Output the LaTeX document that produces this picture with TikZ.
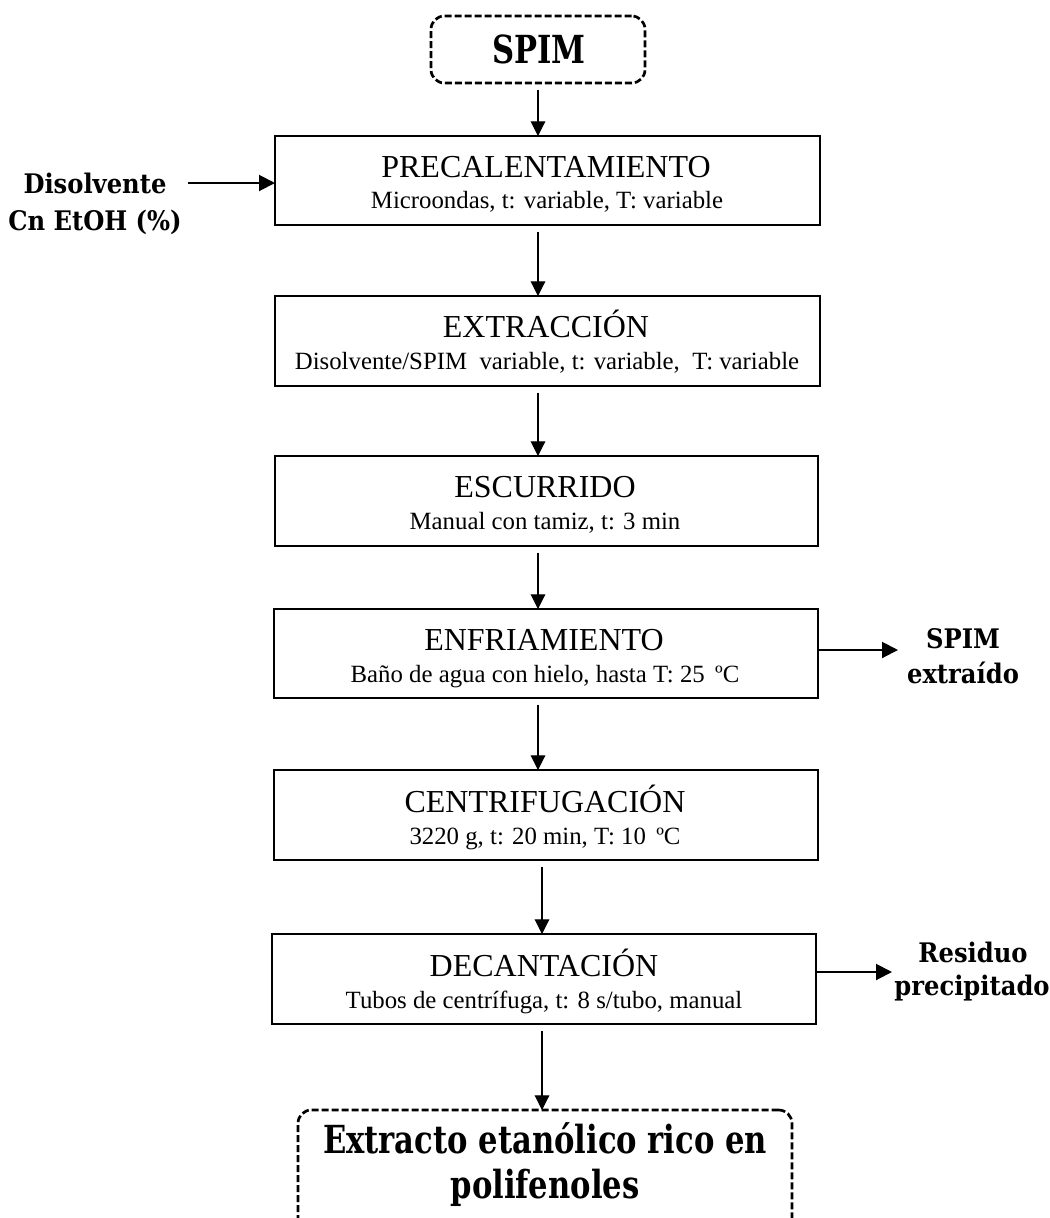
\documentclass[tikz,border=0pt]{standalone}
\usepackage{fontspec}
\setmainfont{Liberation Serif}
\newfontfamily\lblfont{DejaVu Serif Condensed}
\newfontfamily\bigfont{DejaVu Serif Condensed}[FakeStretch=0.88]
\usetikzlibrary{arrows.meta}
\begin{document}
\begin{tikzpicture}[x=0.75pt,y=-0.75pt,
  stepbox/.style={draw, line width=1.1pt, inner sep=0pt, outer sep=0pt},
  endbox/.style={draw, line width=2pt, dash pattern=on 5.2pt off 2.3pt, rounded corners=10pt, inner sep=0pt, outer sep=0pt},
  ttl/.style={anchor=base, inner sep=0pt, font=\fontsize{24}{28}\selectfont},
  sub/.style={anchor=base, inner sep=0pt, font=\fontsize{18.6}{22}\selectfont},
  lbl/.style={anchor=base, inner sep=0pt, font=\lblfont\bfseries\fontsize{20.2}{24}\selectfont},
  big/.style={anchor=base, inner sep=0pt, font=\bigfont\bfseries\fontsize{29}{34}\selectfont},
  flow/.style={-{Triangle[length=11pt,width=11pt]}, line width=0.8pt, shorten <=5pt},
  side/.style={-{Triangle[length=12pt,width=12pt]}, line width=1.5pt}]
\useasboundingbox (0,0) rectangle (1050,1218);

% start
\node[endbox, minimum width=160.5pt, minimum height=50.25pt] (spim) at (538,49.5) {};
\node[big] (spimt) at (539,63) {SPIM};

% boxes
\node[stepbox, minimum width=408.75pt, minimum height=66.75pt] (p1) at (547.5,180.5) {};
\node[ttl] (t1) at (546,177) {PRECALENTAMIENTO};
\node[sub] (s1) at (547,208) {Microondas, t: variable, T: variable};

\node[stepbox, minimum width=408.75pt, minimum height=67.5pt] (p2) at (547.5,341) {};
\node[ttl] (t2) at (546,337) {EXTRACCIÓN};
\node[sub] (s2) at (547,369) {Disolvente/SPIM\ \ variable, t: variable,\ \ T: variable};

\node[stepbox, minimum width=407.25pt, minimum height=67.5pt] (p3) at (546.5,501) {};
\node[ttl] (t3) at (545,497) {ESCURRIDO};
\node[sub] (s3) at (545,529) {Manual con tamiz, t: 3 min};

\node[stepbox, minimum width=408pt, minimum height=66.75pt] (p4) at (546,653.5) {};
\node[ttl] (t4) at (544,650) {ENFRIAMIENTO};
\node[sub] (s4) at (545,682) {Baño de agua con hielo, hasta T: 25\,\ ºC};

\node[stepbox, minimum width=408pt, minimum height=67.5pt] (p5) at (546,815) {};
\node[ttl] (t5) at (545,812) {CENTRIFUGACIÓN};
\node[sub] (s5) at (545,844) {3220 g, t: 20 min, T: 10\,\ ºC};

\node[stepbox, minimum width=408pt, minimum height=67.5pt] (p6) at (544,979) {};
\node[ttl] (t6) at (544,976) {DECANTACIÓN};
\node[sub] (s6) at (544,1008) {Tubos de centrífuga, t: 8 s/tubo, manual};

% end
\node[endbox, minimum width=370.5pt, minimum height=98.25pt] (fin) at (545,1175.5) {};
\node[big] (fin1) at (545,1153) {Extracto etanólico rico en};
\node[big] (fin2) at (545,1198) {polifenoles};

% side labels
\node[lbl] (dis1) at (95,193) {Disolvente};
\node[lbl] (dis2) at (95,230) {Cn EtOH (\%)};
\node[lbl] (ext1) at (963,648) {SPIM};
\node[lbl] (ext2) at (963,683) {extraído};
\node[lbl] (res1) at (973,962) {Residuo};
\node[lbl] (res2) at (972,995) {precipitado};

% main flow
\draw[flow] (spim.south) -- (p1.north -| spim.south);
\draw[flow] (p1.south -| spim.south) -- (p2.north -| spim.south);
\draw[flow] (p2.south -| spim.south) -- (p3.north -| spim.south);
\draw[flow] (p3.south -| spim.south) -- (p4.north -| spim.south);
\coordinate (ax) at (542,0);
\draw[flow] (p4.south -| spim.south) -- (p5.north -| spim.south);
\draw[flow] (p5.south -| ax) -- (p6.north -| ax);
\draw[flow] (p6.south -| ax) -- (fin.north -| ax);

% side flows
\coordinate (dsrc) at (188,183);
\draw[side] (dsrc) -- (p1.west |- dsrc);
\coordinate (sx) at (898,650);
\draw[side] (p4.east |- sx) -- (sx);
\coordinate (rx) at (892,972);
\draw[side] (p6.east |- rx) -- (rx);
\end{tikzpicture}
\end{document}
